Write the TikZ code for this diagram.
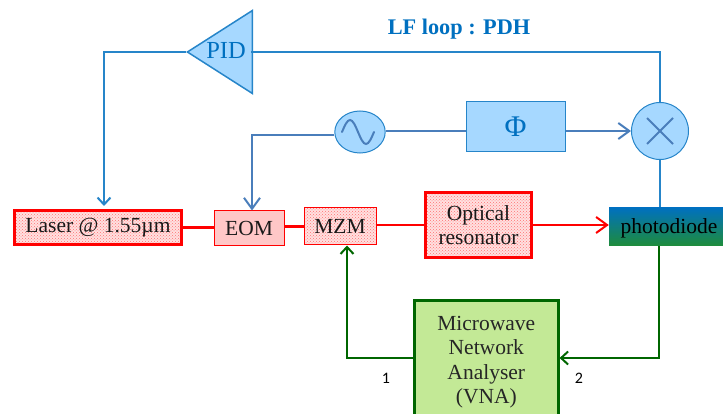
\documentclass[tikz,border=0pt]{standalone}
\usepackage{fontspec}
\setmainfont{Liberation Serif}
\newfontfamily\numfont{Carlito}
\usetikzlibrary{arrows.meta,patterns,shapes.geometric}
\definecolor{loopblue}{HTML}{0070C0}
\definecolor{softblue}{HTML}{4A7EBB}
\definecolor{paleblue}{HTML}{A6D8FF}
\definecolor{darkgreen}{HTML}{006600}
\definecolor{palegreen}{HTML}{C3E996}
\definecolor{diodegreen}{HTML}{1E8C3C}
\tikzset{
  dotbox/.style={draw=red,preaction={fill=red!12},pattern=crosshatch dots,pattern color=red!55,inner sep=0pt,text=black!90},
  bluebox/.style={draw=loopblue!85,fill=paleblue},
  blueline/.style={draw=loopblue!85,line width=2.2pt},
  softline/.style={draw=softblue,line width=2pt},
  redline/.style={draw=red,line width=2.2pt},
  greenline/.style={draw=darkgreen,line width=2.2pt},
  tip/.style={-{Straight Barb[length=7pt,width=13pt,line width=2pt]}},
  softtip/.style={-{Straight Barb[length=11pt,width=16pt,line width=2pt]}},
}
\begin{document}
\begin{tikzpicture}[x=1pt,y=-1pt,font=\fontsize{21.5}{24.5}\selectfont]
\clip (0,0) rectangle (723,414);

% optical line
\node[dotbox,line width=2.2pt,minimum width=167pt,minimum height=34pt] (laser) at (98,227.5) {Laser @ 1.55µm};
\node[draw=red,fill=red!22,line width=1pt,minimum width=70pt,minimum height=35pt,inner sep=0pt,text=black!90] (eom) at (249,228.5) {EOM};
\node[dotbox,line width=1pt,minimum width=72pt,minimum height=37pt] (mzm) at (340,226.5) {MZM};
\node[dotbox,line width=2.2pt,minimum width=106pt,minimum height=65pt,align=center] (res) at (478.5,225) {Optical\\resonator};
\node[draw=none,top color=loopblue,bottom color=diodegreen,minimum width=114pt,minimum height=38pt,inner sep=0pt] (pd) at (666,226.5) {};
\node[text=black] (pdlabel) at (669,228) {photodiode};

% low frequency loop
\node[isosceles triangle,isosceles triangle apex angle=64,isosceles triangle stretches,shape border rotate=180,anchor=apex,bluebox,line width=1.5pt,minimum width=83pt,minimum height=65pt,inner sep=0pt] (pid) at (186,52) {};
\node[text=loopblue] (pidlabel) at (226,51) {\fontsize{24.5}{26}\selectfont PID};
\node[text=loopblue,font=\fontsize{22.3}{24}\selectfont\bfseries] (lf) at (459,29) {LF loop : PDH};
\node[circle,bluebox,line width=1pt,inner sep=0pt,minimum size=42pt,xscale=1.2] (osc) at (360,132) {};
\node[bluebox,line width=1pt,minimum width=99pt,minimum height=50pt,inner sep=0pt,text=loopblue] (phi) at (515.5,127) {\fontsize{30}{30}\selectfont Φ};
\node[circle,bluebox,line width=1pt,inner sep=0pt,minimum size=57pt] (mix) at (660,131) {};
\coordinate (pidleft) at (104,52);
\coordinate (oscleft) at (252,135);
\coordinate (mixtop) at (660,52);

\draw[softline,line cap=round] ([shift={(-18,0)}]osc.center) sin ++(8,-12) cos ++(8,12) sin ++(8,12) cos ++(8,-12);
\draw[softline] ([shift={(-13,-13)}]mix.center) -- ([shift={(13,13)}]mix.center);
\draw[softline] ([shift={(-13,13)}]mix.center) -- ([shift={(13,-13)}]mix.center);

\draw[blueline,tip] (pid.apex) -- (pidleft) -- (104,206);
\draw[blueline] (mix.north) -- (mixtop) -- (251,52);
\draw[blueline] (mix.south) -- (pd.north -| mix.south);
\draw[softline,softtip] (osc.west |- oscleft) -- (oscleft) -- (eom.north -| oscleft);
\draw[softline] (osc.east |- mix.west) -- (phi.west |- mix.west);
\draw[softline,softtip] (phi.east |- mix.west) -- (mix.west);

\draw[redline] (laser.east) -- (eom.west |- laser.east);
\draw[redline] (eom.east |- mzm.east) -- (mzm.west);
\draw[redline] (mzm.east |- res.west) -- (res.west);
\draw[redline,softtip] (res.east) -- (pd.west |- res.east);

% microwave part
\node[draw=darkgreen,fill=palegreen,line width=2.6pt,minimum width=144pt,minimum height=124pt,inner sep=0pt,anchor=north west,align=center,text=black!85] (vna) at (413,299) {Microwave\\Network\\Analyser\\(VNA)};
\coordinate (vnaleft) at (347,358);
\coordinate (vnaright) at (659,358);
\draw[greenline,tip] (vna.west |- vnaleft) -- (vnaleft) -- (mzm.south -| vnaleft);
\draw[greenline,tip] (pd.south -| vnaright) -- (vnaright) -- (vna.east |- vnaright);
\node[font=\numfont\fontsize{16}{18}\selectfont] (port1) at (386,378) {1};
\node[font=\numfont\fontsize{16}{18}\selectfont] (port2) at (579,378) {2};
\end{tikzpicture}
\end{document}
